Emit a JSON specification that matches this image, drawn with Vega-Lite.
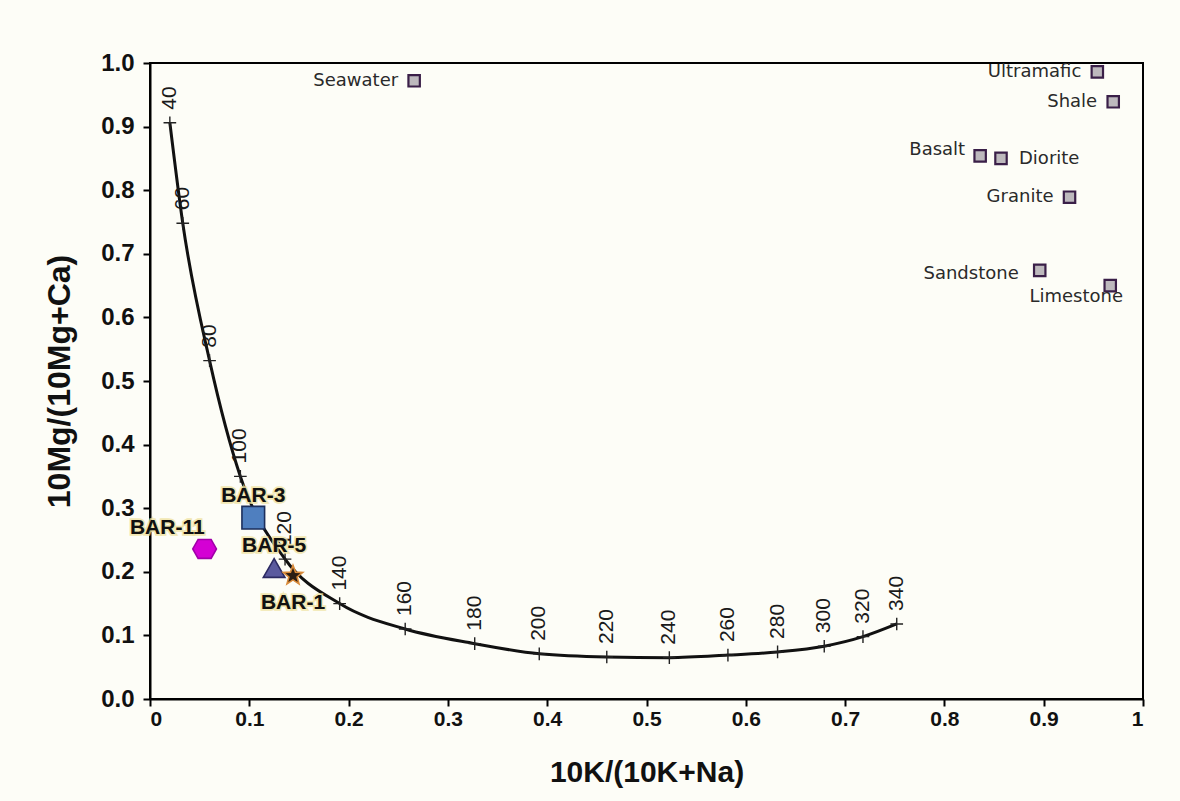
{
  "$schema": "https://vega.github.io/schema/vega-lite/v6.json",
  "width": 993,
  "height": 636,
  "autosize": {"type": "none"},
  "padding": {"left": 150, "top": 63, "right": 37, "bottom": 102},
  "background": "#fdfdf7",
  "config": {
    "view": {"stroke": "#000000", "strokeWidth": 2, "fill": "#fdfdf7"},
    "axis": {"grid": false, "domainColor": "#000000", "domainWidth": 2, "tickColor": "#000000", "tickWidth": 2, "tickSize": 7, "labelFont": "Liberation Sans", "labelFontWeight": "bold", "labelColor": "#111111", "titleFont": "Liberation Sans", "titleFontWeight": "bold", "titleColor": "#111111"}
  },
  "datasets": {
    "curve": [
      {"t": 40, "x": 0.020, "y": 0.906},
      {"t": 60, "x": 0.033, "y": 0.748},
      {"t": 80, "x": 0.060, "y": 0.532},
      {"t": 100, "x": 0.091, "y": 0.350},
      {"t": 120, "x": 0.136, "y": 0.220},
      {"t": 140, "x": 0.191, "y": 0.150},
      {"t": 160, "x": 0.257, "y": 0.110},
      {"t": 180, "x": 0.327, "y": 0.087},
      {"t": 200, "x": 0.392, "y": 0.071},
      {"t": 220, "x": 0.460, "y": 0.066},
      {"t": 240, "x": 0.523, "y": 0.065},
      {"t": 260, "x": 0.582, "y": 0.069},
      {"t": 280, "x": 0.632, "y": 0.074},
      {"t": 300, "x": 0.679, "y": 0.083},
      {"t": 320, "x": 0.718, "y": 0.098},
      {"t": 340, "x": 0.752, "y": 0.118}
    ],
    "rocks": [
      {"name": "Seawater", "x": 0.266, "y": 0.972},
      {"name": "Ultramafic", "x": 0.954, "y": 0.986},
      {"name": "Shale", "x": 0.970, "y": 0.939},
      {"name": "Basalt", "x": 0.836, "y": 0.854},
      {"name": "Diorite", "x": 0.857, "y": 0.850},
      {"name": "Granite", "x": 0.926, "y": 0.789},
      {"name": "Sandstone", "x": 0.896, "y": 0.674},
      {"name": "Limestone", "x": 0.967, "y": 0.650}
    ],
    "samples": [
      {"name": "BAR-11", "x": 0.055, "y": 0.236},
      {"name": "BAR-3", "x": 0.104, "y": 0.285},
      {"name": "BAR-5", "x": 0.125, "y": 0.206},
      {"name": "BAR-1", "x": 0.144, "y": 0.194}
    ]
  },
  "encoding": {
    "x": {"field": "x", "type": "quantitative", "scale": {"domain": [0, 1], "nice": false, "zero": false},
      "axis": {"title": "10K/(10K+Na)", "values": [0, 0.1, 0.2, 0.3, 0.4, 0.5, 0.6, 0.7, 0.8, 0.9, 1], "format": ".1~f", "labelFontSize": 21, "labelPadding": 2, "titleFontSize": 30, "titlePadding": 28}},
    "y": {"field": "y", "type": "quantitative", "scale": {"domain": [0, 1], "nice": false, "zero": false},
      "axis": {"title": "10Mg/(10Mg+Ca)", "values": [0, 0.1, 0.2, 0.3, 0.4, 0.5, 0.6, 0.7, 0.8, 0.9, 1], "format": ".1f", "labelFontSize": 24, "labelPadding": 9, "titleFontSize": 32, "titlePadding": 24}}
  },
  "layer": [
    {"data": {"name": "curve"}, "mark": {"type": "line", "interpolate": "monotone", "color": "#111111", "strokeWidth": 3}, "encoding": {"order": {"field": "t", "type": "quantitative"}}},
    {"data": {"name": "curve"}, "mark": {"type": "point", "shape": "M-1,0H1M0,-1V1", "filled": false, "stroke": "#222222", "strokeWidth": 1.4, "size": 160, "opacity": 1}},
    {"data": {"name": "curve"}, "mark": {"type": "text", "angle": 270, "align": "left", "baseline": "middle", "dx": 13, "font": "Liberation Sans", "fontSize": 21, "color": "#1a1a1a"}, "encoding": {"text": {"field": "t", "type": "nominal"}}},
    {"data": {"name": "rocks"}, "mark": {"type": "point", "shape": "square", "filled": true, "fill": "#bdb9bd", "stroke": "#3a1f48", "strokeWidth": 2.2, "size": 130, "opacity": 1}},
    {"data": {"name": "rocks"}, "transform": [{"filter": {"field": "name", "oneOf": ["Seawater", "Ultramafic", "Shale", "Granite"]}}], "mark": {"type": "text", "align": "right", "baseline": "middle", "dx": -16, "font": "DejaVu Sans", "fontSize": 18, "color": "#2a2a2a"}, "encoding": {"text": {"field": "name"}}},
    {"data": {"name": "rocks"}, "transform": [{"filter": {"field": "name", "equal": "Basalt"}}], "mark": {"type": "text", "align": "right", "baseline": "middle", "dx": -15, "dy": -6, "font": "DejaVu Sans", "fontSize": 18, "color": "#2a2a2a"}, "encoding": {"text": {"field": "name"}}},
    {"data": {"name": "rocks"}, "transform": [{"filter": {"field": "name", "equal": "Sandstone"}}], "mark": {"type": "text", "align": "right", "baseline": "middle", "dx": -21, "dy": 4, "font": "DejaVu Sans", "fontSize": 18, "color": "#2a2a2a"}, "encoding": {"text": {"field": "name"}}},
    {"data": {"name": "rocks"}, "transform": [{"filter": {"field": "name", "equal": "Diorite"}}], "mark": {"type": "text", "align": "left", "baseline": "middle", "dx": 18, "dy": 1, "font": "DejaVu Sans", "fontSize": 18, "color": "#2a2a2a"}, "encoding": {"text": {"field": "name"}}},
    {"data": {"name": "rocks"}, "transform": [{"filter": {"field": "name", "equal": "Limestone"}}], "mark": {"type": "text", "align": "center", "baseline": "middle", "dx": -34, "dy": 11, "font": "DejaVu Sans", "fontSize": 18, "color": "#2a2a2a"}, "encoding": {"text": {"field": "name"}}},
    {"data": {"name": "samples"}, "mark": {"type": "point", "filled": true, "opacity": 1, "strokeWidth": 1.6},
      "encoding": {
        "shape": {"field": "name", "type": "nominal", "scale": {"domain": ["BAR-11", "BAR-3", "BAR-5", "BAR-1"], "range": ["M-1,0L-0.55,-0.8L0.55,-0.8L1,0L0.55,0.8L-0.55,0.8Z", "square", "triangle-up", "M0,-1L0.247,-0.34L0.951,-0.309L0.4,0.13L0.588,0.809L0,0.42L-0.588,0.809L-0.4,0.13L-0.951,-0.309L-0.247,-0.34Z"]}, "legend": null},
        "fill": {"field": "name", "type": "nominal", "scale": {"domain": ["BAR-11", "BAR-3", "BAR-5", "BAR-1"], "range": ["#d400d4", "#4f7fbf", "#5b5a9e", "#2a1d14"]}, "legend": null},
        "stroke": {"field": "name", "type": "nominal", "scale": {"domain": ["BAR-11", "BAR-3", "BAR-5", "BAR-1"], "range": ["#a000a8", "#1c2f5c", "#2c2a62", "#d88a3a"]}, "legend": null},
        "size": {"field": "name", "type": "nominal", "scale": {"domain": ["BAR-11", "BAR-3", "BAR-5", "BAR-1"], "range": [560, 420, 560, 560]}, "legend": null}
      }},
    {"data": {"name": "samples"}, "transform": [{"filter": {"field": "name", "oneOf": ["BAR-3", "BAR-5"]}}], "mark": {"type": "text", "align": "center", "baseline": "middle", "dy": -22, "font": "Liberation Sans", "fontWeight": "bold", "fontSize": 21, "color": "#111111", "stroke": "#efe2a0", "strokeWidth": 3.5, "strokeOpacity": 0.8}, "encoding": {"text": {"field": "name"}}},
    {"data": {"name": "samples"}, "transform": [{"filter": {"field": "name", "oneOf": ["BAR-3", "BAR-5"]}}], "mark": {"type": "text", "align": "center", "baseline": "middle", "dy": -22, "font": "Liberation Sans", "fontWeight": "bold", "fontSize": 21, "color": "#111111"}, "encoding": {"text": {"field": "name"}}},
    {"data": {"name": "samples"}, "transform": [{"filter": {"field": "name", "equal": "BAR-11"}}], "mark": {"type": "text", "align": "right", "baseline": "middle", "dy": -21, "font": "Liberation Sans", "fontWeight": "bold", "fontSize": 21, "color": "#111111", "stroke": "#efe2a0", "strokeWidth": 3.5, "strokeOpacity": 0.8}, "encoding": {"text": {"field": "name"}}},
    {"data": {"name": "samples"}, "transform": [{"filter": {"field": "name", "equal": "BAR-11"}}], "mark": {"type": "text", "align": "right", "baseline": "middle", "dy": -21, "font": "Liberation Sans", "fontWeight": "bold", "fontSize": 21, "color": "#111111"}, "encoding": {"text": {"field": "name"}}},
    {"data": {"name": "samples"}, "transform": [{"filter": {"field": "name", "equal": "BAR-1"}}], "mark": {"type": "text", "align": "center", "baseline": "middle", "dy": 27, "font": "Liberation Sans", "fontWeight": "bold", "fontSize": 21, "color": "#111111", "stroke": "#efe2a0", "strokeWidth": 3.5, "strokeOpacity": 0.8}, "encoding": {"text": {"field": "name"}}},
    {"data": {"name": "samples"}, "transform": [{"filter": {"field": "name", "equal": "BAR-1"}}], "mark": {"type": "text", "align": "center", "baseline": "middle", "dy": 27, "font": "Liberation Sans", "fontWeight": "bold", "fontSize": 21, "color": "#111111"}, "encoding": {"text": {"field": "name"}}}
  ]
}
